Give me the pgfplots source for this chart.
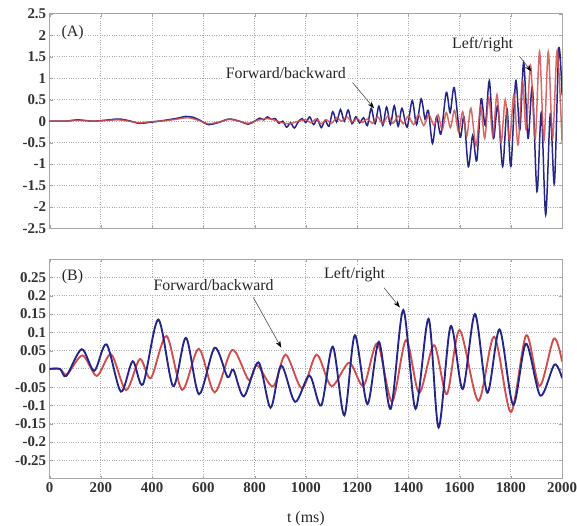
\documentclass[border=0pt]{standalone}
\usepackage{pgfplots}
\pgfplotsset{compat=1.18}
\usepackage{fontspec}
\setmainfont{Liberation Serif}
\usetikzlibrary{arrows.meta}
\definecolor{cblue}{RGB}{38,38,135}
\definecolor{cred}{RGB}{205,80,80}
\tikzset{
 ann/.style={fill=white, inner sep=1.5pt, font=\fontsize{16}{19}\selectfont, text=black!85},
 arr/.style={gray!60!black, line width=0.6pt, -{Stealth[length=7pt,width=5pt,black]}},
}
\begin{document}
\begin{tikzpicture}
\path[use as bounding box] (-50pt,-299pt) rectangle (531pt,230pt);
\pgfplotsset{
 every axis/.append style={
  scale only axis, width=516pt,
  xmin=0, xmax=2000,
  xtick={0,200,...,2000},
  grid=major,
  major grid style={gray!65, dotted, line width=0.9pt},
  axis line style={gray!70, line width=0.9pt},
  tick style={gray!70},
  major tick length=3pt,
  ticklabel style={font=\fontsize{15}{18}\selectfont\bfseries, text=black!80},
  /pgf/number format/assume math mode=true,
 },
}
\begin{axis}[name=top, height=216pt, ymin=-2.5, ymax=2.5,
  ytick={-2.5,-2,-1.5,-1,-0.5,0,0.5,1,1.5,2,2.5},
  yticklabels={-2.5,-2,-1.5,-1,-0.5,0,0.5,1,1.5,2,2.5},
  xticklabels={}]
\addplot[cblue, line width=1.5pt, smooth] coordinates {
(0,0) (60,0) (110,0.03) (170,0) (230,0.03) (270,0.05) (310,0.01) (350,-0.05) (400,-0.02) (450,0.02) (500,0.07) (530,0.11) (560,0.09) (590,0.01) (620,-0.08) (660,-0.03) (700,0.05) (740,0) (775,-0.07) (800,0) (820,0.07) (835,0.03) (850,0.1) (865,0.04) (880,0.06) (895,-0.05) (910,0) (925,-0.14) (940,-0.04) (955,-0.16) (970,-0.02) (985,0.06)
(1000,-0.03) (1015,0.1) (1030,-0.08) (1045,0.05) (1060,-0.15) (1075,0.02) (1090,-0.12) (1105,0.22) (1120,-0.02) (1135,0.27) (1150,0.0) (1165,0.26) (1180,-0.06) (1195,0.1) (1210,-0.04) (1225,0.08) (1240,-0.1) (1255,0.3) (1270,-0.06) (1285,0.35) (1300,-0.1) (1315,0.33) (1330,-0.08) (1345,0.36) (1360,-0.12) (1375,0.3) (1395,-0.14) (1415,0.48) (1432,-0.08) (1450,0.52) (1465,0.05) (1478,0.25) (1494,-0.52) (1510,0.1) (1527,-0.3) (1548,0.67) (1563,0.2) (1579,0.78) (1602,-0.37) (1617,0.1) (1634,-1.06) (1651,-0.33) (1667,-0.92) (1684,0.52) (1700,-0.1) (1716,0.94) (1732,-0.4) (1749,0.36) (1768,-1.06) (1785,0.28) (1800,-1.06) (1819,0.94) (1835,-0.2) (1850,1.37) (1867,-0.4) (1884,0.78) (1902,-1.64) (1919,0.2) (1936,-2.18) (1954,0.17) (1970,-1.45) (1987,1.68) (2000,0.6)
};
\addplot[cred, line width=1.5pt, smooth, opacity=0.85] coordinates {
(0,0) (60,0) (110,0.02) (170,0) (230,0.02) (270,0.03) (310,0) (350,-0.04) (400,-0.01) (450,0.01) (500,0.05) (540,0.08) (580,0.02) (620,-0.06) (660,-0.02) (700,0.04) (740,0) (775,-0.05) (810,0.02) (850,0.06) (880,0.02) (910,-0.04) (940,-0.06) (970,0) (1000,0.03) (1020,-0.04) (1040,0.05) (1060,-0.06) (1080,0.03) (1100,-0.05) (1120,0.08) (1140,0) (1160,0.1) (1180,-0.02) (1200,0.06) (1220,-0.03) (1240,0.05) (1260,-0.05) (1280,0.1) (1300,-0.06) (1320,0.12) (1340,-0.05) (1360,0.12) (1380,-0.06) (1400,0.12) (1420,-0.08) (1440,0.15) (1460,-0.1) (1480,0.15)
(1500,-0.1) (1516,0.15) (1532,-0.2) (1548,0.2) (1564,-0.15) (1580,0.25) (1596,-0.25) (1612,0.22) (1628,-0.35) (1644,0.3) (1664,-0.57) (1682,0.35) (1698,-0.4) (1714,0.54) (1730,-0.35) (1746,0.62) (1762,-0.5) (1778,0.5) (1795,-0.45) (1812,0.62) (1828,-0.55) (1845,0.95) (1860,-0.2) (1877,1.3) (1895,-0.4) (1912,1.62) (1929,-0.45) (1946,1.62) (1963,-0.4) (1981,1.65) (2000,-0.5)
};
\node[ann] at (axis cs:90,2.06) {(A)};
\node[ann] at (axis cs:922,1.13) {Forward/backward};
\draw[arr] (axis cs:1182,0.9) -- (axis cs:1266,0.3);
\node[ann] at (axis cs:1690,1.78) {Left/right};
\draw[arr] (axis cs:1834,1.51) -- (axis cs:1880,1.16);
\end{axis}
\begin{axis}[name=bot, at={(0pt,-31pt)}, anchor=north west, height=221pt,
  ymin=-0.3, ymax=0.3,
  ytick={-0.25,-0.2,-0.15,-0.1,-0.05,0,0.05,0.1,0.15,0.2,0.25},
  yticklabels={-0.25,-0.2,-0.15,-0.1,-0.05,0,0.05,0.1,0.15,0.2,0.25},
  xticklabels={0,200,400,600,800,1000,1200,1400,1600,1800,2000},
  xlabel={t (ms)},
  xlabel style={font=\fontsize{16}{19}\selectfont, text=black!85, yshift=-12pt}]
\addplot[cred, line width=1.9pt, smooth] coordinates {
(0,0) (40,0) (68,-0.015) (128,0.037) (184,-0.019) (240,0.04) (298,-0.058) (352,0.027) (395,-0.025) (456,0.09) (517,-0.057) (582,0.055) (644,-0.064) (713,0.052) (777,-0.03) (810,0.01) (872,-0.048) (921,0.039) (985,-0.053) (1042,0.039) (1100,-0.047) (1169,0.017) (1225,-0.046) (1279,0.07) (1336,-0.089) (1391,0.079) (1442,-0.065) (1500,0.065) (1550,-0.069) (1600,0.106) (1673,-0.087) (1735,0.088) (1800,-0.118) (1860,0.092) (1912,-0.047) (1968,0.083) (2000,0.02)
};
\addplot[cblue, line width=1.9pt, smooth] coordinates {
(0,0) (40,0) (65,-0.019) (125,0.054) (174,-0.005) (222,0.067) (278,-0.062) (324,0.021) (364,-0.042) (424,0.135) (482,-0.047) (532,0.085) (583,-0.069) (644,0.058) (694,-0.022) (717,-0.002) (758,-0.075) (815,0.018) (862,-0.106) (904,0.009) (958,-0.09) (1014,-0.018) (1060,-0.1) (1105,0.061) (1150,-0.127) (1191,0.092) (1240,-0.096) (1285,0.074) (1331,-0.109) (1380,0.161) (1428,-0.109) (1479,0.137) (1518,-0.16) (1565,0.117) (1612,-0.055) (1660,0.15) (1708,-0.065) (1756,0.108) (1809,-0.098) (1859,0.069) (1915,-0.073) (1970,0.012) (2000,-0.025)
};
\node[ann] at (axis cs:89,0.252) {(B)};
\node[ann] at (axis cs:640,0.228) {Forward/backward};
\draw[arr] (axis cs:795,0.195) -- (axis cs:904,0.058);
\node[ann] at (axis cs:1190,0.257) {Left/right};
\draw[arr] (axis cs:1305,0.222) -- (axis cs:1367,0.168);
\end{axis}
\end{tikzpicture}
\end{document}
